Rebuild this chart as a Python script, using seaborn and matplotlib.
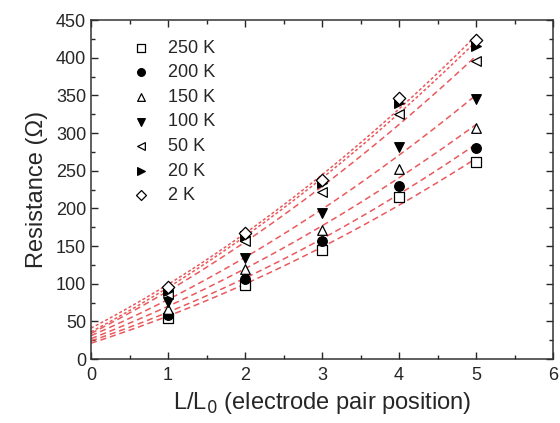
import numpy as np
import pandas as pd
import seaborn as sns
import matplotlib.pyplot as plt
from matplotlib.ticker import MultipleLocator

positions = [1, 2, 3, 4, 5]
temps = ['250 K', '200 K', '150 K', '100 K', '50 K', '20 K', '2 K']
r_250 = [54, 98, 145, 215, 261]
r_200 = [58, 106, 157, 229, 280]
r_150 = [67, 120, 171, 252, 306]
r_100 = [76, 134, 194, 282, 345]
r_50 = [86, 156, 222, 325, 396]
r_20 = [90, 163, 234, 340, 415]
r_2 = [96, 167, 237, 346, 423]
# fit curve values at L/L0 = 0
intercepts = [21, 24, 27, 31, 34, 36, 41]
markers = ['s', 'o', '^', 'v', '<', '>', 'D']
filled = [False, True, False, True, False, True, False]

series = [r_250, r_200, r_150, r_100, r_50, r_20, r_2]

sns.set_style('ticks')
plt.rcParams['font.family'] = ['Liberation Sans', 'DejaVu Sans']

fig = plt.figure(figsize=(5.6, 4.23), dpi=100)
ax = fig.add_axes([0.1625, 0.1513, 0.825, 0.8014])

xp = np.array(positions, dtype=float)
xf = np.linspace(0, 5, 100)
for i, (r, c0) in enumerate(zip(series, intercepts)):
    # quadratic fit with the intercept held fixed
    A = np.column_stack([xp, xp ** 2])
    b, a = np.linalg.lstsq(A, np.array(r) - c0, rcond=None)[0]
    ls = (0, (2, 1.5)) if i >= 5 else (0, (4, 2.5))
    ax.plot(xf, c0 + b * xf + a * xf ** 2, color='#e8474a', lw=1.1, ls=ls,
            alpha=0.9, zorder=1)

for i, (lab, r) in enumerate(zip(temps, series)):
    df = pd.DataFrame({'x': positions, 'y': r})
    ms = 48 if markers[i] != 'D' else 40
    sns.scatterplot(data=df, x='x', y='y', ax=ax, marker=markers[i], s=ms,
                    facecolor='black' if filled[i] else 'white',
                    edgecolor='black', linewidth=0.9, label=lab, zorder=3)

ax.set_xlim(0, 6)
ax.set_ylim(0, 450)
ax.xaxis.set_major_locator(MultipleLocator(1))
ax.xaxis.set_minor_locator(MultipleLocator(0.5))
ax.yaxis.set_major_locator(MultipleLocator(50))
ax.yaxis.set_minor_locator(MultipleLocator(25))
ax.tick_params(which='both', direction='in', top=True, right=True, labelsize=13, width=1)
ax.tick_params(which='major', length=5)
ax.tick_params(which='minor', length=3)
ax.tick_params(axis='x', pad=6)
for sp in ax.spines.values():
    sp.set_linewidth(1.1)
    sp.set_color('#333333')

ax.set_xlabel('L/L$_0$ (electrode pair position)', fontsize=17, labelpad=4)
ax.set_ylabel('Resistance (\u03a9)', fontsize=17, labelpad=6)

ax.legend(loc='upper left', frameon=False, fontsize=13, bbox_to_anchor=(0.05, 0.99),
          handletextpad=0.9, labelspacing=0.42, handlelength=1.2, markerscale=0.8)

fig.savefig('out.png', dpi=100)
